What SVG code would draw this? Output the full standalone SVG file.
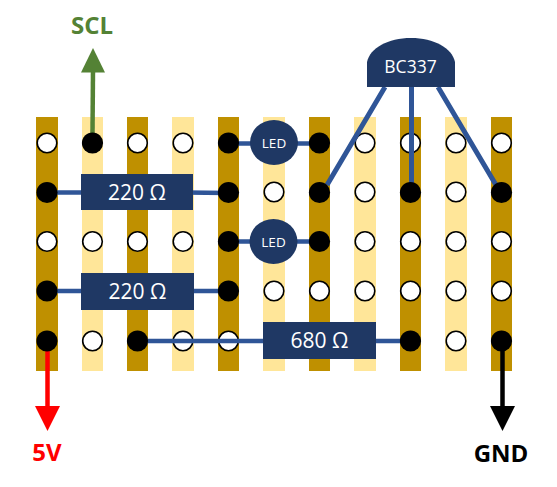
<svg xmlns="http://www.w3.org/2000/svg" width="557" height="487" viewBox="0 0 557 487">
<style>
text{font-family:"Open Sans","Noto Sans","Liberation Sans",sans-serif;text-anchor:middle}
.d{fill:#bf9000}.l{fill:#ffe699}
.o{fill:#fff;stroke:#000;stroke-width:1.6}
.b{fill:#000}
.c{fill:#1f3864}
.w{stroke:#2f5597;stroke-width:4.5;fill:none}
.t{fill:#fff;font-size:21px}
.s{fill:#fff;font-size:13.5px}
.p{font-size:24px;font-weight:700}
</style>
<g id="strips">
<rect class="d" x="36" y="117" width="22" height="254"/>
<rect class="l" x="82" y="117" width="21" height="254"/>
<rect class="d" x="127" y="117" width="21" height="254"/>
<rect class="l" x="172" y="117" width="22" height="254"/>
<rect class="d" x="218" y="117" width="21" height="254"/>
<rect class="l" x="263" y="117" width="22" height="254"/>
<rect class="d" x="309" y="117" width="21" height="254"/>
<rect class="l" x="354" y="117" width="22" height="254"/>
<rect class="d" x="400" y="117" width="21" height="254"/>
<rect class="l" x="445" y="117" width="22" height="254"/>
<rect class="d" x="491" y="117" width="21" height="254"/>
</g>
<g id="holes-open">
<circle class="o" cx="47" cy="143" r="9.8"/><circle class="o" cx="137.5" cy="143" r="9.8"/><circle class="o" cx="183" cy="143" r="9.8"/><circle class="o" cx="365" cy="143" r="9.8"/><circle class="o" cx="410.5" cy="143" r="9.8"/><circle class="o" cx="456" cy="143" r="9.8"/><circle class="o" cx="501.5" cy="143" r="9.8"/>
<circle class="o" cx="274" cy="192" r="9.8"/><circle class="o" cx="365" cy="192" r="9.8"/><circle class="o" cx="456" cy="192" r="9.8"/>
<circle class="o" cx="47" cy="241.500" r="9.8"/><circle class="o" cx="92.500" cy="241.500" r="9.8"/><circle class="o" cx="137.500" cy="241.500" r="9.8"/><circle class="o" cx="183" cy="241.500" r="9.8"/><circle class="o" cx="365" cy="241.500" r="9.8"/><circle class="o" cx="410.500" cy="241.500" r="9.8"/><circle class="o" cx="456" cy="241.500" r="9.8"/><circle class="o" cx="501.500" cy="241.500" r="9.8"/>
<circle class="o" cx="274" cy="291" r="9.8"/><circle class="o" cx="319.500" cy="291" r="9.8"/><circle class="o" cx="365" cy="291" r="9.8"/><circle class="o" cx="410.500" cy="291" r="9.8"/><circle class="o" cx="456" cy="291" r="9.8"/><circle class="o" cx="501.500" cy="291" r="9.8"/>
<circle class="o" cx="92.500" cy="341" r="9.8"/><circle class="o" cx="183" cy="341" r="9.8"/><circle class="o" cx="228.500" cy="341" r="9.8"/><circle class="o" cx="456" cy="341" r="9.8"/>
</g>
<g id="connectors">
<path class="w" d="M47 192.500H90M185 192.500L228 193"/>
<path class="w" d="M47 291H90M185 291H228"/>
<path class="w" d="M137 341H270M370 341H410"/>
<path class="w" d="M228 143.500H255M228 241.500H255M295 143.500H319M295 241.500H319"/>
<path class="w" style="stroke-width:5" d="M385 87L327 185M411.500 87V190M438 87L496 185"/>
<g id="arrow-scl"><path d="M92.500 133L93 70" stroke="#548235" stroke-width="4.500" fill="none"/><path d="M93 48L105 72.500H81Z" fill="#548235"/></g>
<g id="arrow-5v"><path d="M47.500 345V408" stroke="#f00" stroke-width="4.500" fill="none"/><path d="M35 406H60L47.500 431Z" fill="#f00"/></g>
<g id="arrow-gnd"><path d="M502.500 345V408" stroke="#000" stroke-width="4.500" fill="none"/><path d="M490 406H515L502.500 431Z" fill="#000"/></g>
</g>
<g id="holes-filled">
<circle class="b" cx="92.500" cy="143" r="10.600"/><circle class="b" cx="228.500" cy="143" r="10.600"/><circle class="b" cx="319.500" cy="143" r="10.600"/>
<circle class="b" cx="47" cy="192.500" r="10.600"/><circle class="b" cx="228.500" cy="192.500" r="10.600"/><circle class="b" cx="319.500" cy="192.500" r="10.600"/><circle class="b" cx="410.500" cy="192.500" r="10.600"/><circle class="b" cx="501.500" cy="192.500" r="10.600"/>
<circle class="b" cx="228.500" cy="241.500" r="10.600"/><circle class="b" cx="319.500" cy="241.500" r="10.600"/>
<circle class="b" cx="47" cy="291" r="10.600"/><circle class="b" cx="228.500" cy="291" r="10.600"/>
<circle class="b" cx="47" cy="341" r="10.600"/><circle class="b" cx="137.500" cy="341" r="10.600"/><circle class="b" cx="410.500" cy="341" r="10.600"/><circle class="b" cx="501.500" cy="341" r="10.600"/>
</g>
<g id="r1"><rect class="c" x="81" y="174" width="112" height="36"/><text class="t" x="137" y="199.500">220 Ω</text></g>
<g id="r2"><rect class="c" x="81" y="273" width="113" height="37"/><text class="t" x="137.500" y="299">220 Ω</text></g>
<g id="r3"><rect class="c" x="263" y="322" width="113" height="37"/><text class="t" x="319.500" y="348">680 Ω</text></g>
<g id="led1"><ellipse class="c" cx="274" cy="142.500" rx="24" ry="22.500"/><text class="s" x="274" y="148">LED</text></g>
<g id="led2"><ellipse class="c" cx="273.500" cy="241.500" rx="24" ry="22.500"/><text class="s" x="273.500" y="247">LED</text></g>
<g id="bc337"><path class="c" d="M367 87V62C370 48 388 38 411 38S452 48 455 62V87Z"/><text x="410.500" y="73" fill="#fff" font-size="17.500">BC337</text></g>
<text class="p" x="92" y="34" fill="#548235">SCL</text>
<text class="p" x="47" y="461" fill="#f00">5V</text>
<text class="p" x="501" y="462" fill="#000">GND</text>
</svg>
